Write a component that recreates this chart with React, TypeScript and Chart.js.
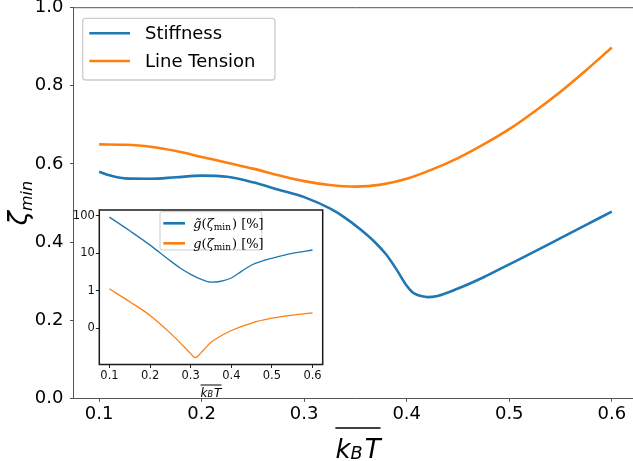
import React, { useEffect, useRef } from "react";
import { Chart, registerables } from "chart.js";
Chart.register(...registerables);

// ---------- data ----------
const seriesLabels = ["Stiffness", "Line Tension"];
const stiffnessX = [0.1, 0.11, 0.125, 0.15, 0.175, 0.2, 0.225, 0.25, 0.275, 0.3, 0.325, 0.34, 0.355, 0.37, 0.38, 0.39, 0.4, 0.405, 0.41, 0.415, 0.42, 0.43, 0.45, 0.475, 0.5, 0.525, 0.55, 0.575, 0.6];
const stiffnessY = [0.58, 0.571, 0.563, 0.562, 0.566, 0.57, 0.567, 0.553, 0.534, 0.515, 0.486, 0.462, 0.432, 0.397, 0.368, 0.33, 0.288, 0.273, 0.265, 0.261, 0.259, 0.262, 0.281, 0.31, 0.343, 0.376, 0.41, 0.444, 0.478];
const tensionX = [0.1, 0.125, 0.15, 0.175, 0.2, 0.225, 0.25, 0.275, 0.3, 0.325, 0.35, 0.375, 0.4, 0.425, 0.45, 0.475, 0.5, 0.525, 0.55, 0.575, 0.6];
const tensionY = [0.65, 0.649, 0.644, 0.633, 0.618, 0.603, 0.588, 0.571, 0.556, 0.546, 0.542, 0.547, 0.562, 0.586, 0.615, 0.65, 0.689, 0.735, 0.785, 0.84, 0.898];

const insetLabels = ["g̃(ζmin) [%]", "g(ζmin) [%]"];
const gTildeX = [0.1, 0.15, 0.2, 0.25, 0.275, 0.3, 0.325, 0.35, 0.375, 0.4, 0.425, 0.45, 0.475, 0.5, 0.55, 0.6];
const gTildeY = [93, 40, 16.6, 6.3, 4.0, 2.75, 2.04, 1.7, 1.8, 2.2, 3.3, 4.9, 6.2, 7.4, 10, 12.3];
const gX = [0.1, 0.15, 0.2, 0.25, 0.275, 0.29, 0.3, 0.31, 0.315, 0.32, 0.33, 0.35, 0.375, 0.4, 0.45, 0.5, 0.55, 0.6];
const gY = [1.13, 0.51, 0.22, 0.074, 0.04, 0.027, 0.021, 0.0166, 0.017, 0.019, 0.025, 0.042, 0.063, 0.087, 0.138, 0.186, 0.224, 0.257];

const mainXTicks = [0.1, 0.2, 0.3, 0.4, 0.5, 0.6];
const mainXTickLabels = ["0.1", "0.2", "0.3", "0.4", "0.5", "0.6"];
const mainYTicks = [0, 0.2, 0.4, 0.6, 0.8, 1.0];
const mainYTickLabels = ["0.0", "0.2", "0.4", "0.6", "0.8", "1.0"];
const insetYTicks = [0.1, 1, 10, 100];
const insetYTickLabels = ["0", "1", "10", "100"];

const yTitleMain = "ζ";
const yTitleSub = "min";
const xTitleParts = ["k", "B", "T"];
const insetLegendParts: [string, string][][] = [
  [["g̃", "i"], ["(", ""], ["ζ", "i"], ["min", "s"], [") [%]", ""]],
  [["g", "i"], ["(", ""], ["ζ", "i"], ["min", "s"], [") [%]", ""]],
];

const BLUE = "#1f77b4";
const ORANGE = "#ff7f0e";
const SANS = '"DejaVu Sans", sans-serif';
const SERIF = '"DejaVu Serif", serif';

function roundRectPath(ctx: CanvasRenderingContext2D, x: number, y: number, w: number, h: number, r: number) {
  ctx.beginPath();
  ctx.moveTo(x + r, y);
  ctx.lineTo(x + w - r, y);
  ctx.arcTo(x + w, y, x + w, y + r, r);
  ctx.lineTo(x + w, y + h - r);
  ctx.arcTo(x + w, y + h, x + w - r, y + h, r);
  ctx.lineTo(x + r, y + h);
  ctx.arcTo(x, y + h, x, y + h - r, r);
  ctx.lineTo(x, y + r);
  ctx.arcTo(x, y, x + r, y, r);
  ctx.closePath();
}

function drawKBT(ctx: CanvasRenderingContext2D, cx: number, baseline: number, size: number, overY: number) {
  const sub = size * 0.68;
  ctx.font = `italic ${size}px ${SANS}`;
  const wk = ctx.measureText(xTitleParts[0]).width;
  const wT = ctx.measureText(xTitleParts[2]).width;
  ctx.font = `italic ${sub}px ${SANS}`;
  const wB = ctx.measureText(xTitleParts[1]).width;
  const gap = size * 0.08;
  const total = wk + wB + gap + wT;
  let x = cx - total / 2;
  ctx.fillStyle = "#000";
  ctx.textAlign = "left";
  ctx.textBaseline = "alphabetic";
  ctx.font = `italic ${size}px ${SANS}`;
  ctx.fillText(xTitleParts[0], x, baseline);
  x += wk;
  ctx.font = `italic ${sub}px ${SANS}`;
  ctx.fillText(xTitleParts[1], x, baseline + size * 0.06);
  x += wB + gap;
  ctx.font = `italic ${size}px ${SANS}`;
  ctx.fillText(xTitleParts[2], x, baseline);
  ctx.strokeStyle = "#000";
  ctx.lineWidth = Math.max(1, size * 0.05);
  ctx.beginPath();
  ctx.moveTo(cx - total / 2, overY);
  ctx.lineTo(cx + total / 2, overY);
  ctx.stroke();
}

const mainDecor = {
  id: "mainDecor",
  afterDraw(chart: any) {
    const { ctx, chartArea: a } = chart;
    ctx.save();
    // top spine
    ctx.strokeStyle = "#555";
    ctx.lineWidth = 1;
    ctx.beginPath();
    ctx.moveTo(a.left, a.top);
    ctx.lineTo(a.right, a.top);
    ctx.stroke();
    // legend
    const bx = a.left + 9.2, by = a.top + 10.6, bw = 192.3, bh = 61.7;
    roundRectPath(ctx, bx, by, bw, bh, 3);
    ctx.fillStyle = "rgba(255,255,255,0.8)";
    ctx.fill();
    ctx.strokeStyle = "#cccccc";
    ctx.lineWidth = 1.3;
    ctx.stroke();
    chart.data.datasets.forEach((ds: any, i: number) => {
      const cy = by + 15 + i * 27.7;
      ctx.strokeStyle = ds.borderColor;
      ctx.lineWidth = 2.6;
      ctx.beginPath();
      ctx.moveTo(bx + 6.6, cy);
      ctx.lineTo(bx + 47.3, cy);
      ctx.stroke();
      ctx.fillStyle = "#000";
      ctx.font = `18px ${SANS}`;
      ctx.textAlign = "left";
      ctx.textBaseline = "middle";
      ctx.fillText(ds.label, bx + 62.3, cy + 1);
    });
    // y title
    const cyc = (a.top + a.bottom) / 2;
    ctx.font = `italic 26px ${SANS}`;
    const wz = ctx.measureText(yTitleMain).width;
    ctx.font = `italic 16px ${SANS}`;
    const wm = ctx.measureText(yTitleSub).width;
    ctx.save();
    ctx.translate(a.left - 46.5, cyc + (wz + wm) / 2);
    ctx.rotate(-Math.PI / 2);
    ctx.fillStyle = "#000";
    ctx.textAlign = "left";
    ctx.textBaseline = "alphabetic";
    ctx.font = `italic 26px ${SANS}`;
    ctx.fillText(yTitleMain, 0, 0);
    ctx.font = `italic 16px ${SANS}`;
    ctx.fillText(yTitleSub, wz, 5);
    ctx.restore();
    // x title
    drawKBT(ctx, (a.left + a.right) / 2 + 2.5, a.bottom + 59.2, 26, a.bottom + 29.7);
    ctx.restore();
  },
};

const insetDecor = {
  id: "insetDecor",
  beforeDraw(chart: any) {
    const { ctx, chartArea: a } = chart;
    ctx.save();
    ctx.fillStyle = "#fff";
    ctx.fillRect(a.left, a.top, a.right - a.left, a.bottom - a.top);
    ctx.restore();
  },
  afterDraw(chart: any) {
    const { ctx, chartArea: a } = chart;
    ctx.save();
    ctx.strokeStyle = "#1a1a1a";
    ctx.lineWidth = 1.5;
    ctx.strokeRect(a.left, a.top, a.right - a.left, a.bottom - a.top);
    // legend
    const bx = a.left + 60.7, by = a.top + 1.7, bw = 101.7, bh = 38.3;
    roundRectPath(ctx, bx, by, bw, bh, 2);
    ctx.fillStyle = "rgba(255,255,255,0.8)";
    ctx.fill();
    ctx.strokeStyle = "#cccccc";
    ctx.lineWidth = 1;
    ctx.stroke();
    chart.data.datasets.forEach((ds: any, i: number) => {
      const cy = by + 11.6 + i * 20;
      ctx.strokeStyle = ds.borderColor;
      ctx.lineWidth = 2.6;
      ctx.beginPath();
      ctx.moveTo(bx + 3.3, cy);
      ctx.lineTo(bx + 25, cy);
      ctx.stroke();
      let x = bx + 33.3;
      const base = cy + 4.5;
      ctx.fillStyle = "#000";
      ctx.textAlign = "left";
      ctx.textBaseline = "alphabetic";
      for (const [t, st] of insetLegendParts[i]) {
        if (st === "s") {
          ctx.font = `9px ${SERIF}`;
          ctx.fillText(t, x, base + 2.5);
        } else {
          ctx.font = `${st === "i" ? "italic " : ""}13px ${SERIF}`;
          ctx.fillText(t, x, base);
        }
        x += ctx.measureText(t).width + (st === "s" ? 1 : 0);
      }
    });
    drawKBT(ctx, (a.left + a.right) / 2, a.bottom + 32, 12, a.bottom + 20.5);
    ctx.restore();
  },
};

export default function App() {
  const mainRef = useRef<HTMLCanvasElement>(null);
  const insetRef = useRef<HTMLCanvasElement>(null);

  useEffect(() => {
    const main = new Chart(mainRef.current!, {
      type: "line",
      data: {
        datasets: [
          {
            label: seriesLabels[0],
            data: stiffnessX.map((x, i) => ({ x, y: stiffnessY[i] })),
            borderColor: BLUE,
            borderWidth: 2.6,
            pointRadius: 0,
            fill: false,
            cubicInterpolationMode: "monotone",
          },
          {
            label: seriesLabels[1],
            data: tensionX.map((x, i) => ({ x, y: tensionY[i] })),
            borderColor: ORANGE,
            borderWidth: 2.6,
            pointRadius: 0,
            fill: false,
            cubicInterpolationMode: "monotone",
          },
        ],
      },
      options: {
        responsive: false,
        animation: false,
        layout: { padding: { left: 0, top: 7.7, right: 2.6, bottom: 0 } },
        plugins: { legend: { display: false }, tooltip: { enabled: false } },
        scales: {
          x: {
            type: "linear",
            min: 0.075,
            max: 0.625,
            bounds: "data",
            afterBuildTicks: (s: any) => {
              s.ticks = mainXTicks.map((v) => ({ value: v }));
            },
            afterFit: (s: any) => {
              s.height = 62.7;
              s.paddingLeft = 0;
              s.paddingRight = 0;
            },
            grid: { drawOnChartArea: false, tickLength: 3.5, tickColor: "#555", tickWidth: 1 },
            border: { display: true, color: "#555", width: 1 },
            ticks: {
              font: { family: "DejaVu Sans", size: 18 },
              color: "#000",
              padding: 2,
              maxRotation: 0,
              autoSkip: false,
              callback: (_v: any, i: number) => mainXTickLabels[i],
            },
          },
          y: {
            type: "linear",
            min: 0,
            max: 1,
            bounds: "data",
            afterBuildTicks: (s: any) => {
              s.ticks = mainYTicks.map((v) => ({ value: v }));
            },
            afterFit: (s: any) => {
              s.width = 73.5;
              s.paddingTop = 0;
              s.paddingBottom = 0;
            },
            grid: { drawOnChartArea: false, tickLength: 3.5, tickColor: "#555", tickWidth: 1 },
            border: { display: true, color: "#555", width: 1 },
            ticks: {
              font: { family: "DejaVu Sans", size: 18 },
              color: "#000",
              padding: 6.5,
              autoSkip: false,
              callback: (_v: any, i: number) => mainYTickLabels[i],
            },
          },
        },
      } as any,
      plugins: [mainDecor],
    });

    const inset = new Chart(insetRef.current!, {
      type: "line",
      data: {
        datasets: [
          {
            label: insetLabels[0],
            data: gTildeX.map((x, i) => ({ x, y: gTildeY[i] })),
            borderColor: BLUE,
            borderWidth: 1.3,
            pointRadius: 0,
            fill: false,
            cubicInterpolationMode: "monotone",
          },
          {
            label: insetLabels[1],
            data: gX.map((x, i) => ({ x, y: gY[i] })),
            borderColor: ORANGE,
            borderWidth: 1.3,
            pointRadius: 0,
            fill: false,
            cubicInterpolationMode: "monotone",
          },
        ],
      },
      options: {
        responsive: false,
        animation: false,
        layout: { padding: { left: 0, top: 10, right: 12.3, bottom: 0 } },
        plugins: { legend: { display: false }, tooltip: { enabled: false } },
        scales: {
          x: {
            type: "linear",
            min: 0.075,
            max: 0.625,
            bounds: "data",
            afterBuildTicks: (s: any) => {
              s.ticks = mainXTicks.map((v) => ({ value: v }));
            },
            afterFit: (s: any) => {
              s.height = 35.5;
              s.paddingLeft = 0;
              s.paddingRight = 0;
            },
            grid: { drawOnChartArea: false, tickLength: 3.5, tickColor: "#222", tickWidth: 1 },
            border: { display: false },
            ticks: {
              font: { family: "DejaVu Sans", size: 11.5 },
              color: "#111",
              padding: 1,
              maxRotation: 0,
              autoSkip: false,
              callback: (_v: any, i: number) => mainXTickLabels[i],
            },
          },
          y: {
            type: "logarithmic",
            min: 0.01076,
            max: 144,
            bounds: "data",
            afterBuildTicks: (s: any) => {
              s.ticks = insetYTicks.map((v) => ({ value: v }));
            },
            afterFit: (s: any) => {
              s.width = 39.3;
              s.paddingTop = 0;
              s.paddingBottom = 0;
            },
            grid: { drawOnChartArea: false, tickLength: 3.5, tickColor: "#222", tickWidth: 1 },
            border: { display: false },
            ticks: {
              font: { family: "DejaVu Sans", size: 11.5 },
              color: "#111",
              padding: 1,
              autoSkip: false,
              callback: (_v: any, i: number) => insetYTickLabels[i],
            },
          },
        },
      } as any,
      plugins: [insetDecor],
    });

    return () => {
      main.destroy();
      inset.destroy();
    };
  }, []);

  return (
    <div style={{ position: "fixed", left: 0, top: 0, width: 633, height: 461, overflow: "hidden", background: "#fff" }}>
      <canvas ref={mainRef} width={640} height={461} style={{ position: "absolute", left: 0, top: 0, width: 640, height: 461 }} />
      <canvas ref={insetRef} width={275} height={200} style={{ position: "absolute", left: 60, top: 200, width: 275, height: 200 }} />
    </div>
  );
}
